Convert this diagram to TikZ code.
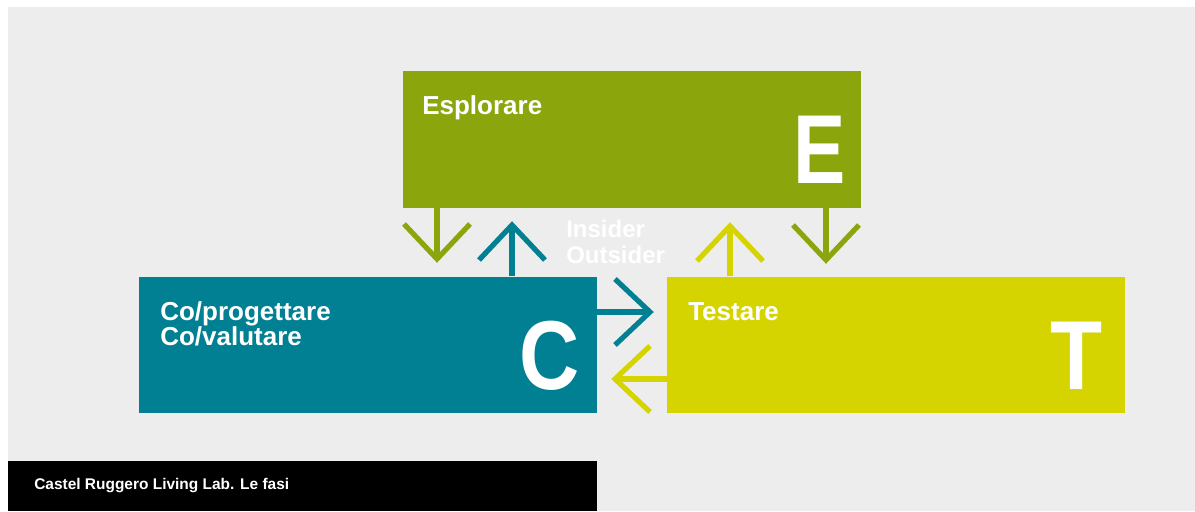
\documentclass[tikz,border=0pt]{standalone}
\usepackage{fontspec}
\setmainfont{Liberation Sans}
\usetikzlibrary{calc}
\definecolor{egreen}{RGB}{139,166,12}
\definecolor{cteal}{RGB}{0,128,146}
\definecolor{tyellow}{RGB}{213,212,0}
\definecolor{bggrey}{RGB}{237,237,237}
\tikzset{
  phasebox/.style={fill=#1, draw=none, inner sep=0pt, minimum width=343.5pt, minimum height=102.5pt},
  shaft/.style={line width=3.9pt, draw=#1},
  head/.pic={\draw[line width=3.9pt, line join=miter, pic actions] (-33,-35) -- (0,0) -- (33,-35);},
  label/.style={text=white, inner sep=0pt, anchor=base west, font=\bfseries\fontsize{19.5}{18.75}\selectfont, align=left},
  bigletter/.style={text=white, inner sep=0pt, anchor=base east, font=\bfseries\fontsize{73.5}{73.5}\selectfont},
}
\begin{document}
\begin{tikzpicture}[x=0.75pt,y=-0.75pt]
\fill[white] (0,0) rectangle (1195,511);
\useasboundingbox (0,0) rectangle (1195,511);
\fill[bggrey] (8,7) rectangle (1195,511);

% boxes
\node[phasebox=egreen] (E) at (632,139.5) {};
\node[phasebox=cteal] (C) at (368,345) {};
\node[phasebox=tyellow] (T) at (896,345) {};

% box texts
\node[label] (El) at (422,114) {Esplorare};
\node[bigletter] (Eb) at (846,183) {\scalebox{0.8}[1]{E}};
\node[label] (Cl) at (160,345) {Co/progettare\\Co/valutare};
\node[bigletter] (Cb) at (580,389) {\scalebox{0.85}[1]{C}};
\node[label] (Tl) at (688,320) {Testare};
\node[bigletter] (Tb) at (1103,389) {\scalebox{0.87}[1]{T}};

\node[text=white, inner sep=0pt, anchor=base west, align=left, font=\bfseries\fontsize{18}{19.5}\selectfont] (io) at (566,263) {Insider\\Outsider};

% arrow tips
\coordinate (a1) at (437,259);
\coordinate (a2) at (512,225);
\coordinate (a3) at (730,226);
\coordinate (a4) at (826,260);
\coordinate (a5) at (650,312);
\coordinate (a6) at (615,379);

\draw[shaft=egreen] (a1 |- E.south) -- (a1);
\pic[draw=egreen] at (a1) {head};
\draw[shaft=cteal] (a2 |- C.north) -- (a2);
\pic[draw=cteal, rotate=180] at (a2) {head};
\draw[shaft=tyellow] (a3 |- T.north) -- (a3);
\pic[draw=tyellow, rotate=180] at (a3) {head};
\draw[shaft=egreen] (a4 |- E.south) -- (a4);
\pic[draw=egreen] at (a4) {head};
\draw[shaft=cteal] (a5 -| C.east) -- (a5);
\pic[draw=cteal, rotate=90] at (a5) {head};
\draw[shaft=tyellow] (a6 -| T.west) -- (a6);
\pic[draw=tyellow, rotate=-90] at (a6) {head};

% footer
\fill[black] (8,461) rectangle (597,511);
\node[text=white, inner sep=0pt, anchor=base west, font=\bfseries\fontsize{11.6}{13}\selectfont] (ft) at (34,489) {Castel Ruggero Living Lab. Le fasi};
\end{tikzpicture}
\end{document}
